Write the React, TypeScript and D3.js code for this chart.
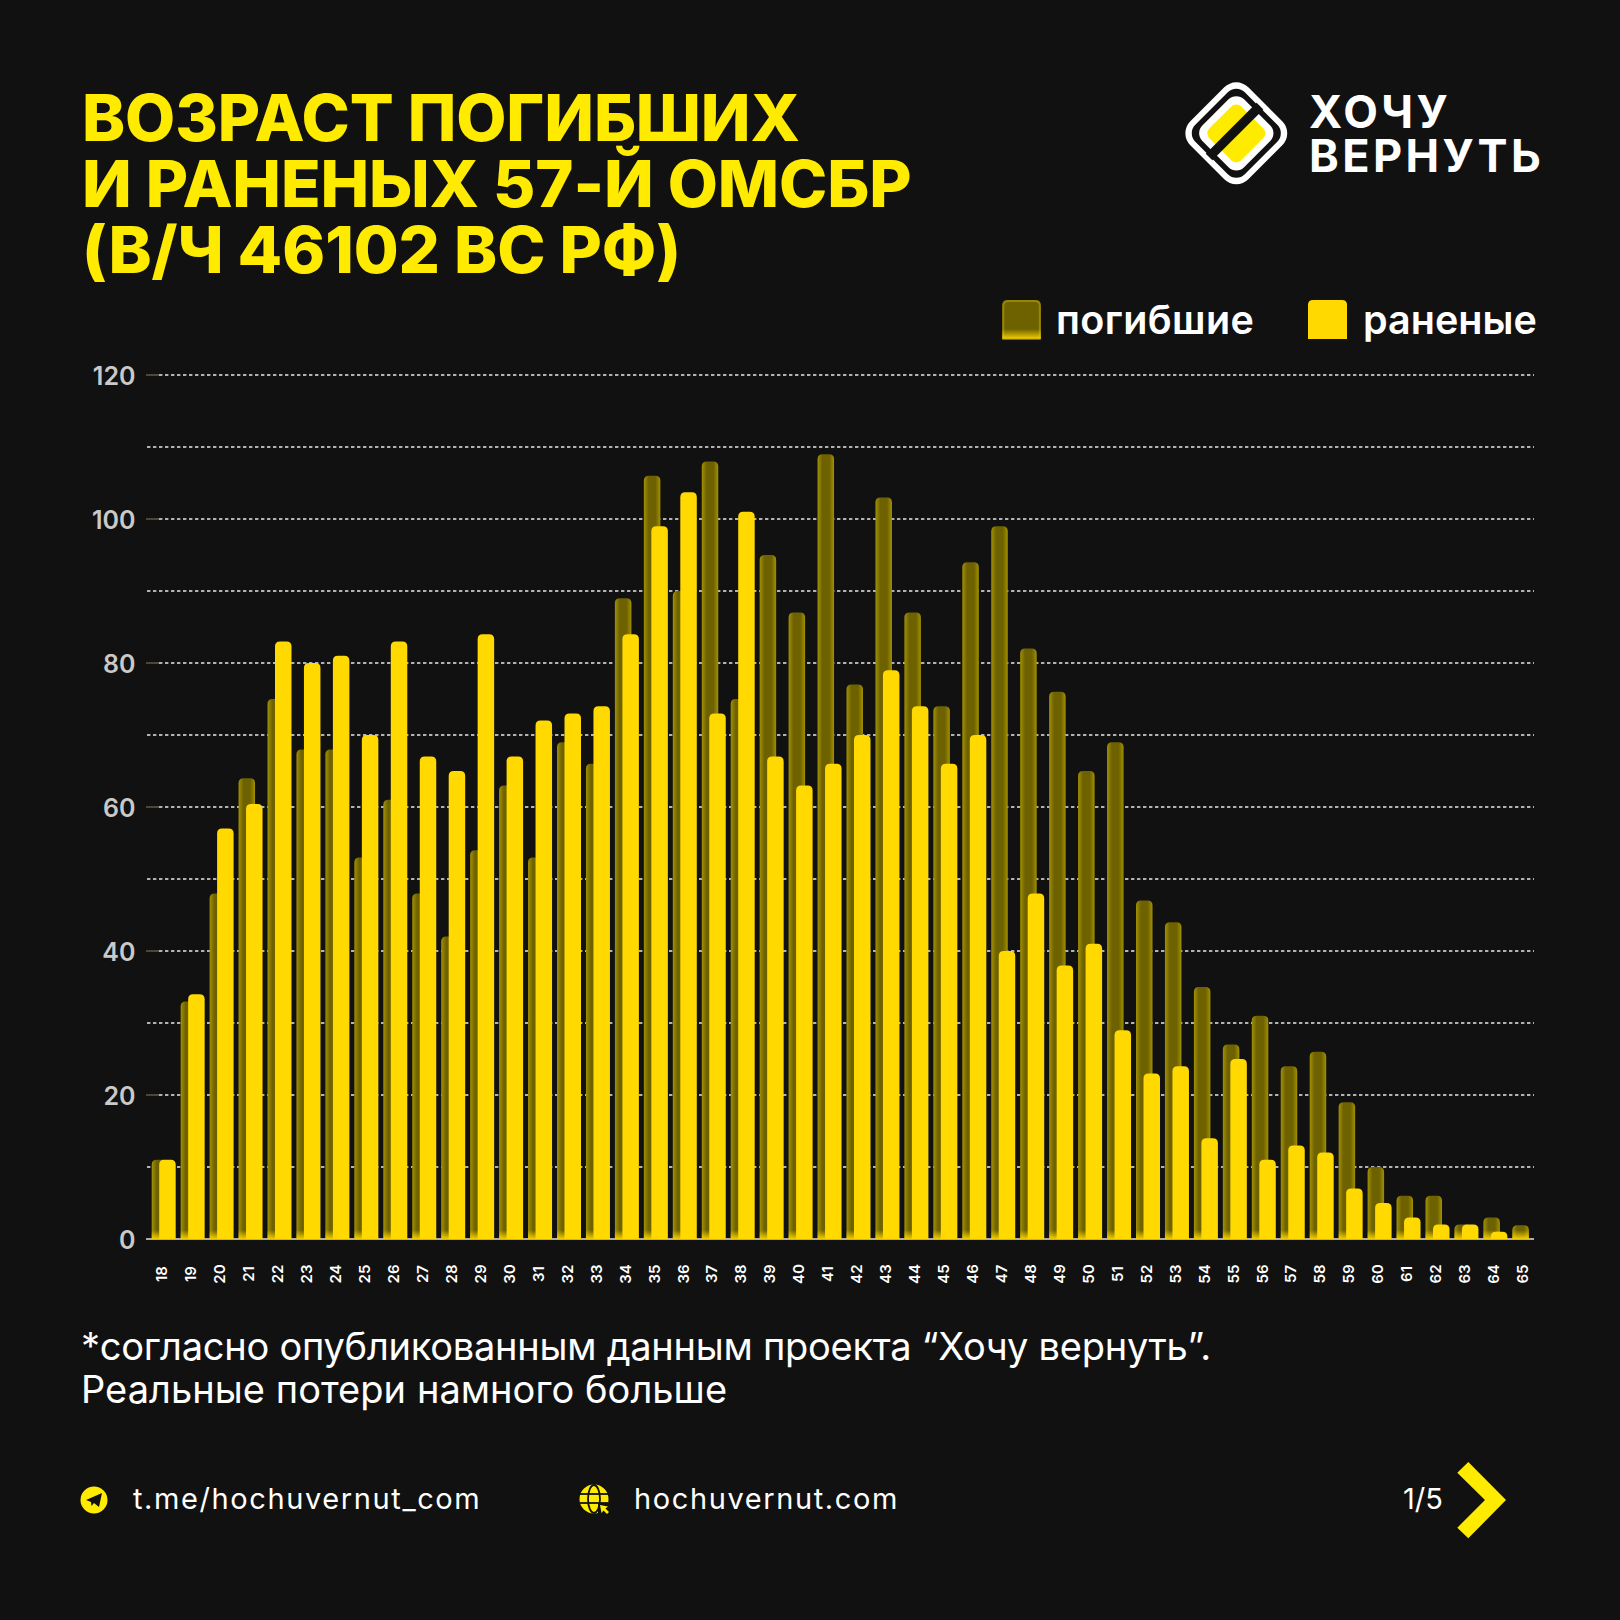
import React, { useEffect, useRef } from 'react';
import * as d3 from 'd3';

const ages = d3.range(18, 66).map(String);

// one value per age 18..65
const killed = [
  11, 33, 48, 64, 75, 68, 68, 53, 61, 48, 42, 54, 63, 53, 69, 66,
  89, 106, 90, 108, 75, 95, 87, 109, 77, 103, 87, 74, 94, 99, 82, 76,
  65, 69, 47, 44, 35, 27, 31, 24, 26, 19, 10, 6, 6, 2, 3, 1.9,
];
const wounded = [
  11, 34, 57, 60.4, 83, 80, 81, 70, 83, 67, 65, 84, 67, 72, 73, 74,
  84, 99, 103.7, 73, 101, 67, 63, 66, 70, 79, 74, 66, 70, 40, 48, 38,
  41, 29, 23, 24, 14, 25, 11, 13, 12, 7, 5, 3, 2, 2, 1, 0,
];
const gridTicks = d3.range(0, 130, 10);
const labelTicks = d3.range(0, 140, 20);
const titleLines = ['ВОЗРАСТ ПОГИБШИХ', 'И РАНЕНЫХ 57-Й ОМСБР', '(В/Ч 46102 ВС РФ)'];
const noteLines = ['*согласно опубликованным данным проекта “Хочу вернуть”.', 'Реальные потери намного больше'];

const BG = '#111111';
const TITLE_YELLOW = '#ffeb00';
const BAR_YELLOW = '#ffd900';
const FONT = 'Inter, "Noto Sans", sans-serif';

const barPath = (x: number, y: number, w: number, h: number, r = 5) => {
  const rr = Math.min(r, h, w / 2);
  const p = d3.path();
  p.moveTo(x, y + h);
  p.lineTo(x, y + rr);
  p.quadraticCurveTo(x, y, x + rr, y);
  p.lineTo(x + w - rr, y);
  p.quadraticCurveTo(x + w, y, x + w, y + rr);
  p.lineTo(x + w, y + h);
  p.closePath();
  return p.toString();
};

const App: React.FC = () => {
  const svgRef = useRef<SVGSVGElement>(null);

  useEffect(() => {
    if (!svgRef.current) return;
    const svg = d3.select(svgRef.current);
    svg.selectAll('*').remove();

    svg.append('rect').attr('width', 1620).attr('height', 1620).attr('fill', BG);

    const defs = svg.append('defs');
    const edge = defs.append('linearGradient').attr('id', 'deadEdge');
    [[0, '#a39100'], [0.3, '#6d6100'], [0.7, '#6d6100'], [1, '#a39100']].forEach(([o, c]) =>
      edge.append('stop').attr('offset', o as number).attr('stop-color', c as string));
    const foot = defs.append('linearGradient').attr('id', 'deadFoot').attr('x1', 0).attr('x2', 0).attr('y1', 0).attr('y2', 1);
    foot.append('stop').attr('offset', 0).attr('stop-color', BAR_YELLOW).attr('stop-opacity', 0);
    foot.append('stop').attr('offset', 1).attr('stop-color', BAR_YELLOW).attr('stop-opacity', 0.9);

    // scales
    const x = d3.scaleBand<string>().domain(ages).range([149.4, 149.4 + 48 * 28.95]);
    const y = d3.scaleLinear().domain([0, 120]).range([1239, 375]);
    const barW = 16.5;
    const deadX = (a: string) => (x(a) as number) + 2.3;
    const woundX = (a: string) => (x(a) as number) + 9.8;

    // grid
    const grid = svg.append('g');
    gridTicks.filter((t) => t > 0).forEach((t) => {
      grid.append('line')
        .attr('x1', 147).attr('x2', 1534)
        .attr('y1', y(t)).attr('y2', y(t))
        .attr('stroke', '#ffffff').attr('stroke-opacity', 0.9)
        .attr('stroke-width', 1.3).attr('stroke-dasharray', '3.4 2.6');
    });
    labelTicks.filter((t) => t > 0).forEach((t) => {
      grid.append('line')
        .attr('x1', 146).attr('x2', 159)
        .attr('y1', y(t)).attr('y2', y(t))
        .attr('stroke', BG).attr('stroke-width', 2);
      grid.append('line')
        .attr('x1', 146).attr('x2', 159)
        .attr('y1', y(t)).attr('y2', y(t))
        .attr('stroke', '#77704a').attr('stroke-width', 1.2);
    });
    svg.append('line')
      .attr('x1', 146).attr('x2', 1534)
      .attr('y1', y(0)).attr('y2', y(0))
      .attr('stroke', '#e0e0e0').attr('stroke-width', 1.4);

    // killed, then wounded on top
    const dead = svg.append('g');
    ages.forEach((a, i) => {
      const top = y(killed[i]);
      const h = y(0) - top;
      dead.append('path').attr('d', barPath(deadX(a), top, barW, h)).attr('fill', 'url(#deadEdge)');
      const fh = Math.min(h, 9);
      dead.append('rect')
        .attr('x', deadX(a)).attr('y', y(0) - fh)
        .attr('width', barW).attr('height', fh)
        .attr('fill', 'url(#deadFoot)');
    });
    svg.append('g').selectAll('path')
      .data(ages.filter((_, i) => wounded[i] > 0))
      .join('path')
      .attr('d', (a) => {
        const v = wounded[ages.indexOf(a)];
        return barPath(woundX(a), y(v), barW, y(0) - y(v));
      })
      .attr('fill', BAR_YELLOW);

    // y labels
    svg.append('g').selectAll('text')
      .data(labelTicks)
      .join('text')
      .attr('x', 135.5)
      .attr('y', (d) => y(d) + 9.5)
      .attr('text-anchor', 'end')
      .attr('fill', '#c9c9c9')
      .attr('font-family', FONT)
      .attr('font-weight', 600)
      .attr('font-size', 25)
      .text((d) => d);

    // x labels
    svg.append('g').selectAll('text')
      .data(ages)
      .join('text')
      .attr('transform', (a) => `translate(${(x(a) as number) + 18},1274) rotate(-90)`)
      .attr('text-anchor', 'middle')
      .attr('fill', '#ffffff')
      .attr('font-family', FONT)
      .attr('font-weight', 600)
      .attr('font-size', 15)
      .text((a) => a);

    // title
    svg.append('g').selectAll('text')
      .data(titleLines)
      .join('text')
      .attr('x', 82)
      .attr('y', (_, i) => 140.7 + i * 66)
      .attr('fill', TITLE_YELLOW)
      .attr('font-family', FONT)
      .attr('font-weight', 800)
      .attr('font-size', 65)
      .attr('letter-spacing', -0.1)
      .text((d) => d);

    // logo
    const logo = svg.append('g').attr('transform', 'translate(1236.3,133.3) rotate(45)');
    const ring = (s: number, r: number, fill: string) =>
      logo.append('rect').attr('x', -s / 2).attr('y', -s / 2).attr('width', s).attr('height', s).attr('rx', r).attr('fill', fill);
    ring(82, 17, '#ffffff');
    ring(70, 12, BG);
    ring(59, 11, '#ffffff');
    ring(45, 7, TITLE_YELLOW);
    logo.append('rect').attr('x', -7.2).attr('y', -36).attr('width', 9.4).attr('height', 72).attr('fill', BG);

    const logoText = [['ХОЧУ', 128], ['ВЕРНУТЬ', 171.7]] as [string, number][];
    svg.append('g').selectAll('text')
      .data(logoText)
      .join('text')
      .attr('x', 1309)
      .attr('y', (d) => d[1])
      .attr('fill', '#ffffff')
      .attr('font-family', FONT)
      .attr('font-weight', 700)
      .attr('font-size', 45)
      .attr('letter-spacing', 3.4)
      .text((d) => d[0]);

    // legend
    const legend = svg.append('g');
    legend.append('path').attr('d', barPath(1002.3, 300, 38.5, 38.7)).attr('fill', '#6d6100');
    legend.append('path').attr('d', barPath(1003.3, 301, 36.5, 37.7)).attr('fill', 'none').attr('stroke', '#978600').attr('stroke-width', 2);
    legend.append('rect').attr('x', 1002.3).attr('y', 329).attr('width', 38.5).attr('height', 9.7).attr('fill', 'url(#deadFoot)');
    legend.append('path').attr('d', barPath(1308, 300, 39, 39)).attr('fill', BAR_YELLOW);
    legend.append('text').attr('x', 1056).attr('y', 334).attr('fill', '#fff').attr('font-family', FONT).attr('font-weight', 600).attr('font-size', 39.5).attr('letter-spacing', 0.4).text('погибшие');
    legend.append('text').attr('x', 1363).attr('y', 334).attr('fill', '#fff').attr('font-family', FONT).attr('font-weight', 600).attr('font-size', 39.5).text('раненые');

    // note
    svg.append('g').selectAll('text')
      .data(noteLines)
      .join('text')
      .attr('x', 81)
      .attr('y', (_, i) => 1360 + i * 43)
      .attr('fill', '#ffffff')
      .attr('font-family', FONT)
      .attr('font-weight', 400)
      .attr('font-size', 38)
      .attr('letter-spacing', (_, i) => (i === 0 ? -0.25 : 0.05))
      .text((d) => d);

    // footer
    const footer = svg.append('g');
    footer.append('circle').attr('cx', 94).attr('cy', 1500).attr('r', 13.5).attr('fill', TITLE_YELLOW);
    footer.append('path').attr('d', 'M86 1500 L102 1493 L99 1507 L94 1503 L91.5 1506 L91 1502 Z').attr('fill', BG);

    const globe = footer.append('g').attr('transform', 'translate(594,1499)');
    globe.append('circle').attr('r', 14.5).attr('fill', TITLE_YELLOW);
    globe.append('ellipse').attr('rx', 6).attr('ry', 14).attr('fill', 'none').attr('stroke', BG).attr('stroke-width', 1.8);
    globe.append('line').attr('x1', -14).attr('x2', 14).attr('y1', -5).attr('y2', -5).attr('stroke', BG).attr('stroke-width', 1.8);
    globe.append('line').attr('x1', -14).attr('x2', 14).attr('y1', 4).attr('y2', 4).attr('stroke', BG).attr('stroke-width', 1.8);
    globe.append('rect').attr('x', 4).attr('y', 4).attr('width', 13).attr('height', 13).attr('fill', BG);
    globe.append('path').attr('d', 'M6 6 L14 7.5 L11.5 9.5 L15 13 L13 15 L9.5 11.5 L7.5 14 Z').attr('fill', TITLE_YELLOW);

    const footerText = [['t.me/hochuvernut_com', 133], ['hochuvernut.com', 634]] as [string, number][];
    footer.selectAll('text.link')
      .data(footerText)
      .join('text')
      .attr('class', 'link')
      .attr('x', (d) => d[1])
      .attr('y', 1509)
      .attr('fill', '#ffffff')
      .attr('font-family', FONT)
      .attr('font-size', 29)
      .attr('letter-spacing', 1.6)
      .text((d) => d[0]);

    footer.append('text')
      .attr('x', 1403).attr('y', 1509)
      .attr('fill', '#ffffff')
      .attr('font-family', FONT)
      .attr('font-size', 29)
      .text('1/5');
    footer.append('path')
      .attr('d', 'M1457.3 1472.7 L1468.3 1462 L1506 1500 L1468.3 1538.3 L1457.3 1527.7 L1485 1500 Z')
      .attr('fill', TITLE_YELLOW);
  }, []);

  return <svg ref={svgRef} width={1620} height={1620} style={{ position: 'absolute', left: 0, top: 0 }}></svg>;
};

export default App;
